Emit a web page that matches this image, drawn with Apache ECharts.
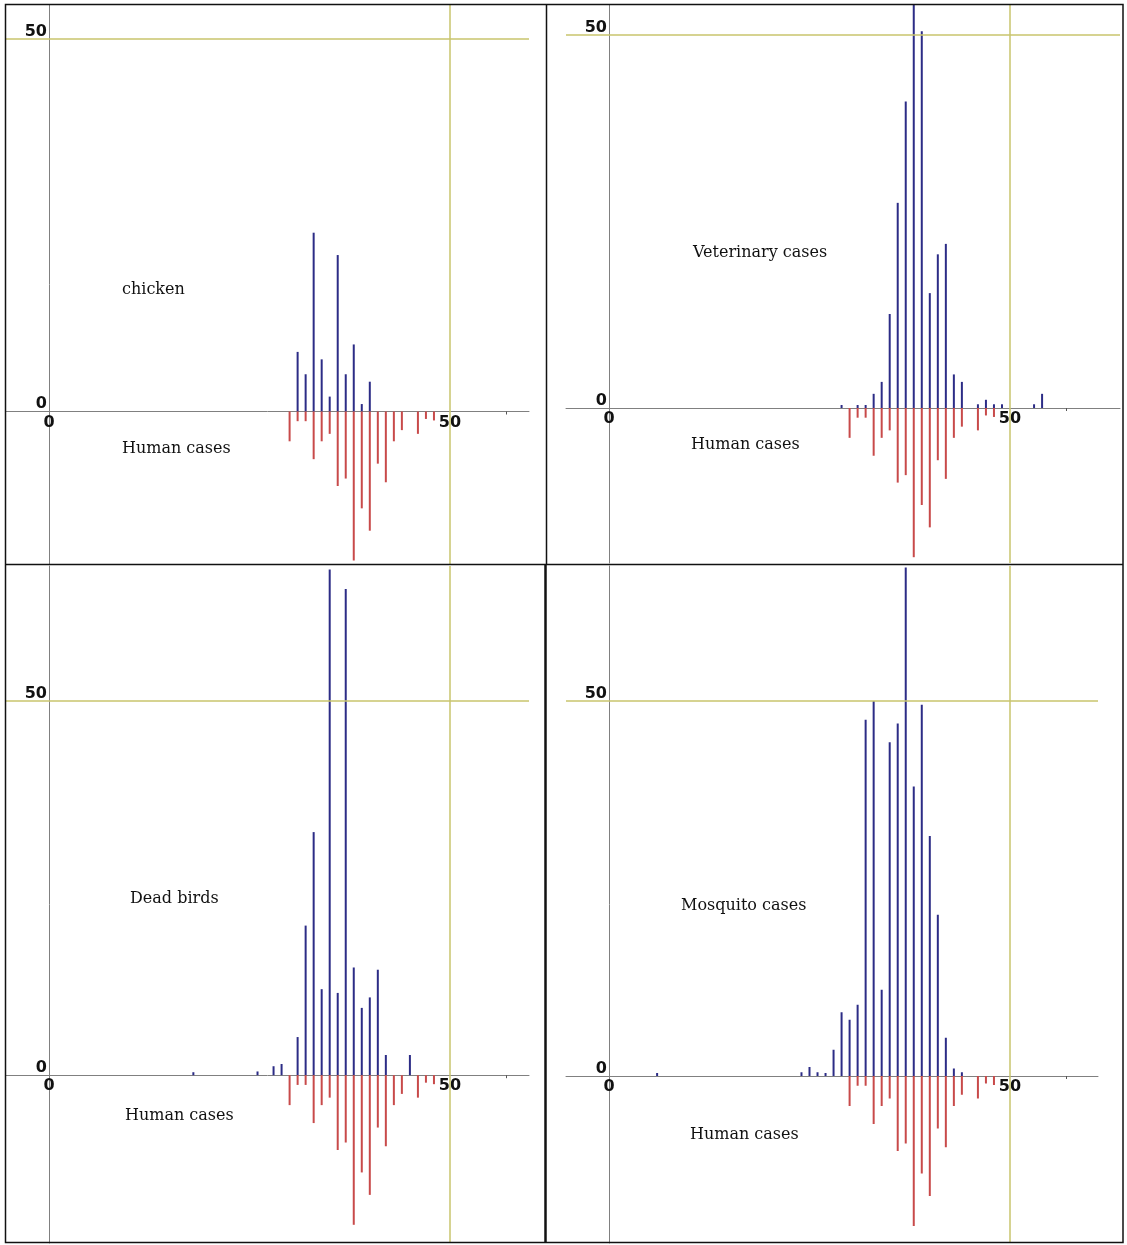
<!DOCTYPE html>
<html><head><meta charset="utf-8">
<script src="https://cdn.jsdelivr.net/npm/echarts@6/dist/echarts.min.js"></script>
<style>html,body{margin:0;padding:0;background:#fff}#c{width:1127px;height:1245px}</style>
</head><body><div id="c"></div>
<script>
// ---- data (week number, count) ----
const humanWeeks = [30, 31, 32, 33, 34, 35, 36, 37, 38, 39, 40, 41, 42, 43, 44, 46, 47, 48];
const humanCases = [4, 1.3, 1.3, 6.4, 4, 3, 10, 9, 20, 13, 16, 7, 9.5, 4, 2.5, 3, 1, 1.2];

const chickenWeeks = [31, 32, 33, 34, 35, 36, 37, 38, 39, 40];
const chickenCases = [8, 5, 24, 7, 2, 21, 5, 9, 1, 4];

const vetWeeks = [29, 31, 32, 33, 34, 35, 36, 37, 38, 39, 40, 41, 42, 43, 44, 46, 47, 48, 49, 53, 54];
const vetCases = [0.4, 0.4, 0.4, 1.9, 3.5, 12.6, 27.5, 41.1, 56, 50.5, 15.4, 20.6, 22, 4.5, 3.5, 0.5, 1.1, 0.5, 0.5, 0.5, 1.9];

const birdWeeks = [18, 26, 28, 29, 31, 32, 33, 34, 35, 36, 37, 38, 39, 40, 41, 42, 45];
const birdCases = [0.4, 0.5, 1.2, 1.5, 5.1, 20, 32.5, 11.5, 67.6, 11, 65, 14.4, 9, 10.4, 14.1, 2.7, 2.7];

const mosqWeeks = [6, 24, 25, 26, 27, 28, 29, 30, 31, 32, 33, 34, 35, 36, 37, 38, 39, 40, 41, 42, 43, 44];
const mosqCases = [0.4, 0.5, 1.2, 0.5, 0.4, 3.5, 8.5, 7.5, 9.5, 47.5, 50, 11.5, 44.5, 47, 67.8, 38.6, 49.5, 32, 21.5, 5.1, 1, 0.5];

const xTickLabels = [0, 50];
const yTickLabels = [0, 50];
const xMinorTick = [57];
const refWeek = 50;
const refCount = 50;

const panelTitles = ['chicken', 'Veterinary cases', 'Dead birds', 'Mosquito cases'];
const lowerTitle = 'Human cases';
const upperSets = [[chickenWeeks, chickenCases], [vetWeeks, vetCases], [birdWeeks, birdCases], [mosqWeeks, mosqCases]];

// ---- layout (pixels) ----
const xs = 8.02;
const panels = [
  {x0: 49,  y0: 411.5,  ys: 7.45, left: 6,   right: 529,  top: 5,   bottom: 564,  t: [122, 291], h: [122, 450]},
  {x0: 609, y0: 408,    ys: 7.46, left: 566, right: 1120, top: 5,   bottom: 563,  t: [693, 254], h: [691, 446]},
  {x0: 49,  y0: 1075.2, ys: 7.48, left: 6,   right: 529,  top: 566, bottom: 1243, t: [130, 900], h: [125, 1117]},
  {x0: 609, y0: 1076,   ys: 7.5,  left: 566, right: 1098, top: 566, bottom: 1243, t: [681, 907], h: [690, 1136]}
];

const BLUE = '#2c2c86', RED = '#c84a4a', OLIVE = '#c9c46c', AXIS = '#808080';
const tickFont = {fontSize: 16, fontWeight: 'bold', fontFamily: 'DejaVu Sans', color: '#111'};

const grid = [], xAxis = [], yAxis = [], series = [], graphic = [];
panels.forEach((p, i) => {
  grid.push({left: p.left, top: p.top, width: p.right - p.left, height: p.bottom - p.top,
             containLabel: false, outerBoundsMode: 'none'});
  xAxis.push({
    type: 'value', gridIndex: i, position: 'bottom', offset: -(p.bottom - p.y0),
    min: (p.left - p.x0) / xs, max: (p.right - p.x0) / xs,
    splitLine: {show: false},
    axisLine: {show: true, onZero: false, lineStyle: {color: AXIS, width: 1}},
    axisTick: {show: true, customValues: xMinorTick, length: 3, lineStyle: {color: '#555'}},
    axisLabel: Object.assign({show: true, customValues: xTickLabels, margin: 3, hideOverlap: false}, tickFont)
  });
  yAxis.push({
    type: 'value', gridIndex: i, position: 'left', offset: -(p.x0 - p.left),
    min: -(p.bottom - p.y0) / p.ys, max: (p.y0 - p.top) / p.ys,
    splitLine: {show: false},
    axisLine: {show: true, onZero: false, lineStyle: {color: AXIS, width: 1}},
    axisTick: {show: false},
    axisLabel: Object.assign({show: true, customValues: yTickLabels, margin: 2, verticalAlign: 'bottom', lineHeight: 15, hideOverlap: false}, tickFont)
  });
  const [wk, vals] = upperSets[i];
  series.push({
    type: 'bar', xAxisIndex: i, yAxisIndex: i, barWidth: 2, barGap: '-100%',
    itemStyle: {color: BLUE}, clip: true,
    data: wk.map((w, k) => [w, vals[k]]),
    markLine: {
      silent: true, symbol: 'none', label: {show: false},
      lineStyle: {color: OLIVE, width: 1.5, type: 'solid'},
      data: [{yAxis: refCount}, {xAxis: refWeek}]
    }
  });
  series.push({
    type: 'bar', xAxisIndex: i, yAxisIndex: i, barWidth: 2, barGap: '-100%',
    itemStyle: {color: RED}, clip: true,
    data: humanWeeks.map((w, k) => [w, -humanCases[k]])
  });
  const txt = {fontSize: 16, fontFamily: 'DejaVu Serif', fill: '#111', verticalAlign: 'middle', align: 'left'};
  graphic.push({type: 'text', left: p.t[0], top: p.t[1] - 9, style: Object.assign({text: panelTitles[i]}, txt)});
  graphic.push({type: 'text', left: p.h[0], top: p.h[1] - 9, style: Object.assign({text: lowerTitle}, txt)});
});

// panel frames
const frame = {stroke: '#111', lineWidth: 1.5};
graphic.push({type: 'rect', z: 100, shape: {x: 5.5, y: 4.5, width: 1117.5, height: 1238}, style: Object.assign({fill: null}, frame)});
graphic.push({type: 'line', z: 100, shape: {x1: 5.5, y1: 564.5, x2: 1123, y2: 564.5}, style: frame});
graphic.push({type: 'line', z: 100, shape: {x1: 546.5, y1: 4.5, x2: 546.5, y2: 564.5}, style: frame});
graphic.push({type: 'line', z: 100, shape: {x1: 545.5, y1: 564.5, x2: 545.5, y2: 1243}, style: {stroke: '#111', lineWidth: 2.5}});

const chart = echarts.init(document.getElementById('c'), null, {renderer: 'canvas'});
chart.setOption({animation: false, backgroundColor: '#fff', grid, xAxis, yAxis, series, graphic});
</script>
</body></html>
